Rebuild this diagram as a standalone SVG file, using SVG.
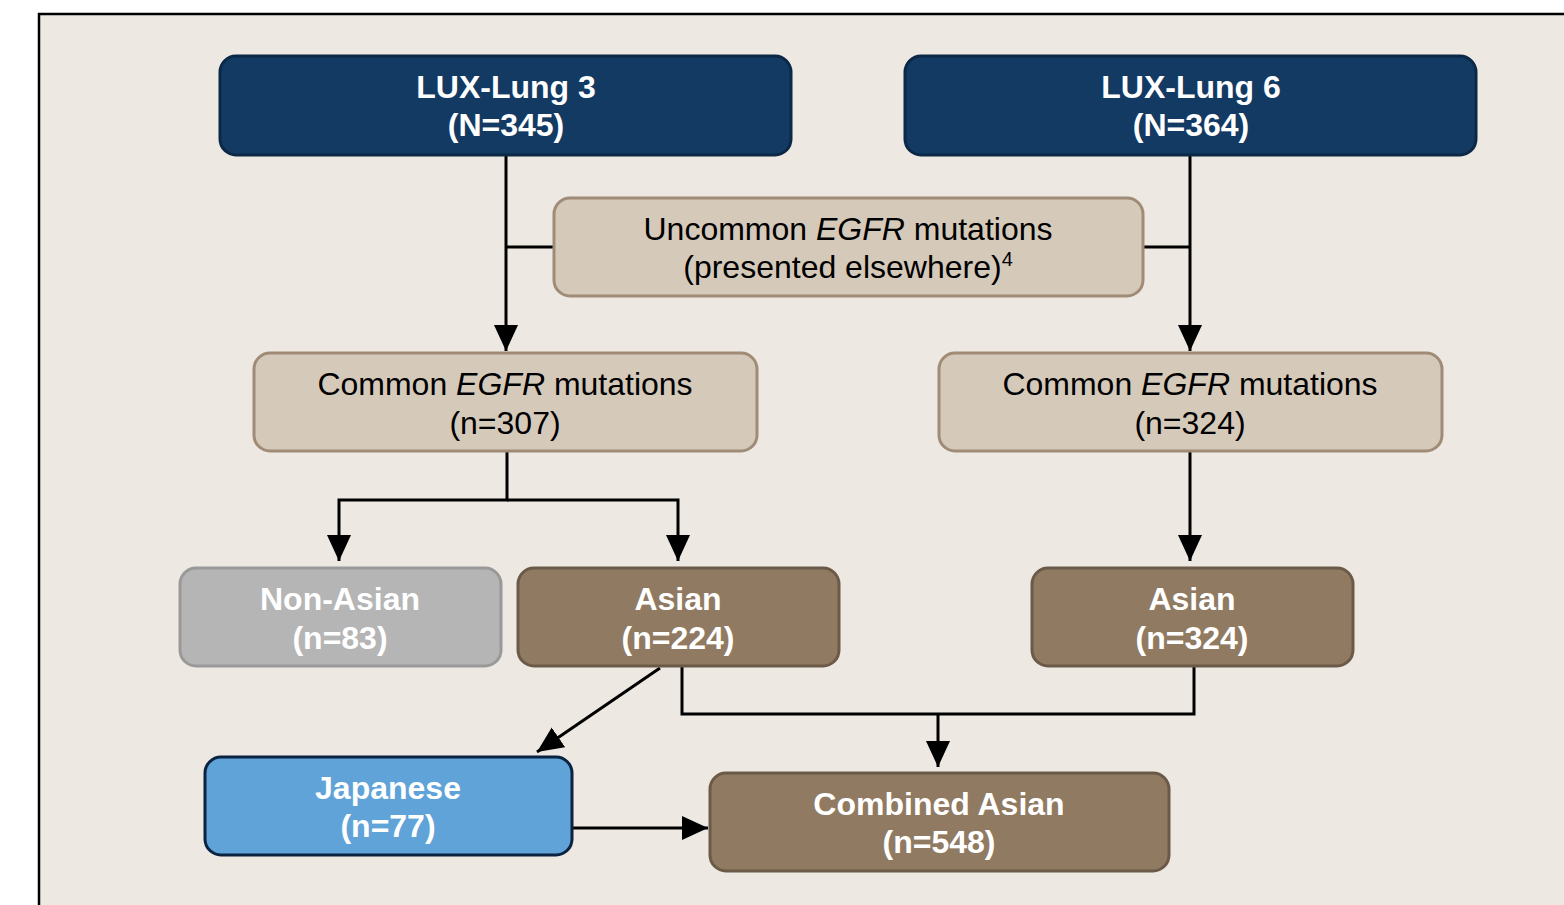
<svg xmlns="http://www.w3.org/2000/svg" width="1564" height="905" viewBox="0 0 1564 905">
<defs>
<marker id="ah" markerUnits="userSpaceOnUse" markerWidth="28" markerHeight="26" refX="26" refY="12" orient="auto" viewBox="0 0 28 26">
<path d="M0,0 L26,12 L0,24 z" fill="#000"/>
</marker>
<style>
.t{font-family:"Liberation Sans",Arial,sans-serif;font-size:32px;text-anchor:middle}
.w{fill:#fff;font-weight:bold}
.k{fill:#000}
.navy{fill:#133A63;stroke:#0B2847;stroke-width:3}
.tan{fill:#D5C9BA;stroke:#A08C76;stroke-width:3}
.grey{fill:#B5B5B5;stroke:#999;stroke-width:3}
.brown{fill:#917A62;stroke:#6B5A48;stroke-width:3}
.blue{fill:#5FA3D8;stroke:#0B2340;stroke-width:3}
.c{fill:none;stroke:#000;stroke-width:3}
</style>
</defs>
<rect x="0" y="0" width="1564" height="905" fill="#fff"/>
<rect x="39" y="14" width="1540" height="900" fill="#EDE8E2" stroke="#000" stroke-width="2.5"/>
<g id="connectors">
<path class="c" d="M506,155 V351" marker-end="url(#ah)"/>
<path class="c" d="M506,247 H554"/>
<path class="c" d="M1190,155 V351" marker-end="url(#ah)"/>
<path class="c" d="M1143,247 H1190"/>
<path class="c" d="M507,451 V500 H339 V561" marker-end="url(#ah)"/>
<path class="c" d="M507,500 H678 V561" marker-end="url(#ah)"/>
<path class="c" d="M1190,451 V561" marker-end="url(#ah)"/>
<path class="c" d="M660,668 L537,752" marker-end="url(#ah)"/>
<path class="c" d="M682,667 V714 H1194 V667"/>
<path class="c" d="M938,714 V767" marker-end="url(#ah)"/>
<path class="c" d="M572,828 H708" marker-end="url(#ah)"/>
</g>
<g id="lux3">
<rect class="navy" x="220" y="56" width="571" height="99" rx="16"/>
<text class="t w" x="506" y="98">LUX-Lung 3</text>
<text class="t w" x="506" y="136">(N=345)</text>
</g>
<g id="lux6">
<rect class="navy" x="905" y="56" width="571" height="99" rx="16"/>
<text class="t w" x="1191" y="98">LUX-Lung 6</text>
<text class="t w" x="1191" y="136">(N=364)</text>
</g>
<g id="uncommon">
<rect class="tan" x="554" y="198" width="589" height="98" rx="16"/>
<text class="t k" x="848" y="240">Uncommon <tspan font-style="italic">EGFR</tspan> mutations</text>
<text class="t k" x="848" y="278">(presented elsewhere)<tspan font-size="20" dy="-12">4</tspan></text>
</g>
<g id="common307">
<rect class="tan" x="254" y="353" width="503" height="98" rx="16"/>
<text class="t k" x="505" y="395">Common <tspan font-style="italic">EGFR</tspan> mutations</text>
<text class="t k" x="505" y="434">(n=307)</text>
</g>
<g id="common324">
<rect class="tan" x="939" y="353" width="503" height="98" rx="16"/>
<text class="t k" x="1190" y="395">Common <tspan font-style="italic">EGFR</tspan> mutations</text>
<text class="t k" x="1190" y="434">(n=324)</text>
</g>
<g id="nonasian">
<rect class="grey" x="180" y="568" width="321" height="98" rx="16"/>
<text class="t w" x="340" y="610">Non-Asian</text>
<text class="t w" x="340" y="649">(n=83)</text>
</g>
<g id="asian224">
<rect class="brown" x="518" y="568" width="321" height="98" rx="16"/>
<text class="t w" x="678" y="610">Asian</text>
<text class="t w" x="678" y="649">(n=224)</text>
</g>
<g id="asian324">
<rect class="brown" x="1032" y="568" width="321" height="98" rx="16"/>
<text class="t w" x="1192" y="610">Asian</text>
<text class="t w" x="1192" y="649">(n=324)</text>
</g>
<g id="japanese">
<rect class="blue" x="205" y="757" width="367" height="98" rx="16"/>
<text class="t w" x="388" y="799">Japanese</text>
<text class="t w" x="388" y="837">(n=77)</text>
</g>
<g id="combined">
<rect class="brown" x="710" y="773" width="459" height="98" rx="16"/>
<text class="t w" x="939" y="815">Combined Asian</text>
<text class="t w" x="939" y="853">(n=548)</text>
</g>
</svg>
